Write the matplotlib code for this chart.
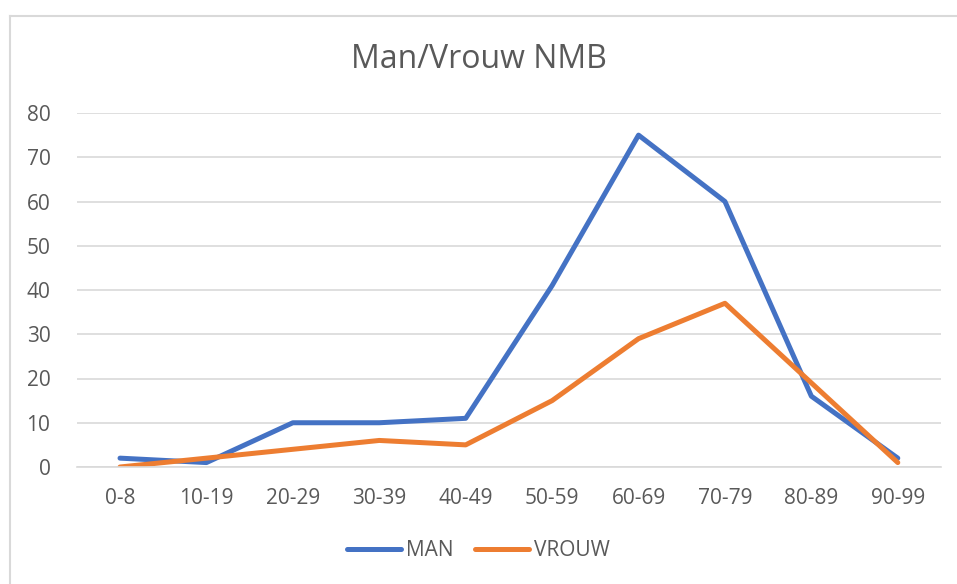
import matplotlib
matplotlib.use("Agg")
import matplotlib.pyplot as plt
from matplotlib.lines import Line2D

categories = ["0-8", "10-19", "20-29", "30-39", "40-49", "50-59", "60-69", "70-79", "80-89", "90-99"]
man = [2, 1, 10, 10, 11, 41, 75, 60, 16, 2]
vrouw = [0, 2, 4, 6, 5, 15, 29, 37, 19, 1]
yticks = [0, 10, 20, 30, 40, 50, 60, 70, 80]

plt.rcParams['font.family'] = ['Open Sans', 'DejaVu Sans']
text_col = "#595959"

W, H = 957, 584
fig = plt.figure(figsize=(W / 100, H / 100), dpi=100)
# chart frame: only left and top edges visible in the crop
fig.add_artist(Line2D([9.5 / W, 9.5 / W], [0, 1 - 15.5 / H], transform=fig.transFigure,
                      color="#d9d9d9", linewidth=1.5))
fig.add_artist(Line2D([9.5 / W, 1], [1 - 15.5 / H, 1 - 15.5 / H], transform=fig.transFigure,
                      color="#d9d9d9", linewidth=1.5))

ax = fig.add_axes([76.8 / W, (H - 467) / H, (941 - 76.8) / W, (467 - 113) / H])
x = list(range(len(categories)))
ax.plot(x, man, color="#4472C4", linewidth=3.6, label="MAN", solid_joinstyle="round", solid_capstyle="round")
ax.plot(x, vrouw, color="#ED7D31", linewidth=3.6, label="VROUW", solid_joinstyle="round", solid_capstyle="round")
ax.set_xlim(-0.5, len(categories) - 0.5)
ax.set_ylim(0, 80)
ax.set_yticks(yticks)
ax.set_xticks(x)
ax.set_xticklabels(categories)
ax.grid(axis="y", color="#d9d9d9", linewidth=1.2)
ax.set_axisbelow(True)
for s in ["top", "right", "left"]:
    ax.spines[s].set_visible(False)
ax.spines["bottom"].set_color("#d9d9d9")
ax.spines["bottom"].set_linewidth(1.2)
ax.tick_params(axis="both", length=0, labelsize=15, colors=text_col)
ax.tick_params(axis="x", pad=15)
ax.tick_params(axis="y", pad=19)
fig.text(0.5, 1 - 60 / H, "Man/Vrouw NMB", ha="center", va="center", fontsize=23, color=text_col)
leg = fig.legend(loc="center", bbox_to_anchor=(0.5, 1 - 551 / H), ncol=2, frameon=False,
                 fontsize=15, handlelength=2.6, columnspacing=1.0, handletextpad=0.25)
for t in leg.get_texts():
    t.set_color(text_col)
fig.savefig("out.png", dpi=100)
